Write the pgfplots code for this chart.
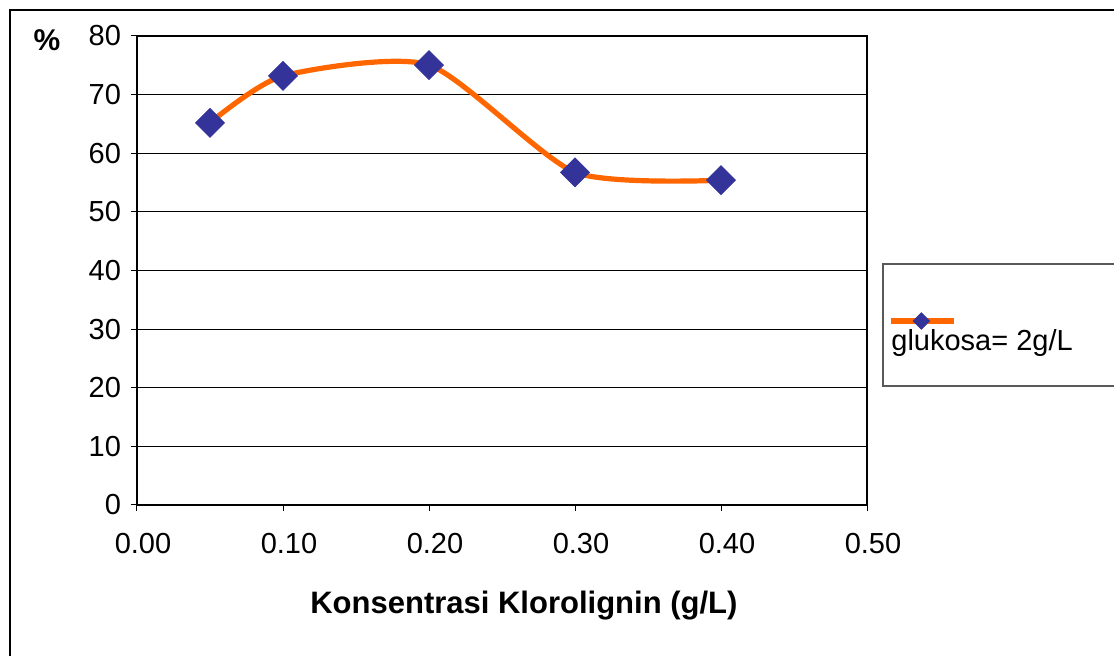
\documentclass[border=0pt]{standalone}
\usepackage{fontspec}
\setmainfont{Liberation Sans}
\usepackage{pgfplots}
\pgfplotsset{compat=1.18}
\definecolor{lineorange}{HTML}{FF6600}
\definecolor{markblue}{HTML}{333399}

\begin{document}
\fontsize{14.5}{17}\selectfont
\begin{tikzpicture}
\useasboundingbox (0,0) rectangle (557pt,-328pt);
% outer chart frame (right and bottom edges fall outside the page)
\draw[line width=1pt] (4.75pt,-5pt) rectangle (565pt,-335pt);
% legend frame
\draw[line width=0.8pt, black!65] (441.5pt,-132pt) rectangle (565pt,-193pt);
\begin{axis}[
    at={(68.5pt,-252.5pt)}, anchor=south west,
    scale only axis, width=365pt, height=234.5pt,
    xmin=0, xmax=0.5, ymin=0, ymax=80,
    xtick={0,0.1,0.2,0.3,0.4,0.5},
    xticklabels={0.00,0.10,0.20,0.30,0.40,0.50},
    ytick={0,10,20,30,40,50,60,70,80},
    /pgf/number format/assume math mode=true,
    xtick pos=bottom, ytick pos=left,
    tick align=outside, major tick length=3pt,
    major tick style={black, line width=0.5pt},
    axis line style={black, line width=0.7pt},
    ymajorgrids=true,
    major grid style={black, line width=0.5pt},
    xticklabel style={xshift=3pt, yshift=-6pt},
    xlabel={\textbf{Konsentrasi Klorolignin (g/L)}},
    xlabel style={at={(0.530,-0.2154)}, anchor=center, font=\fontsize{15.5}{18}\selectfont},
    ylabel={\textbf{\%}},
    ylabel style={at={(-0.1233,0.9915)}, rotate=-90, anchor=center, font=\fontsize{15}{18}\selectfont},
    legend style={at={(1.0329,0.3465)}, anchor=west, draw=none, fill=none,
        inner sep=0pt, nodes={inner sep=0pt}, column sep=0pt},
    legend image code/.code={
        \draw[overlay, #1] (0pt,10.75pt) -- (31.5pt,10.75pt);
        \draw[overlay, #1, mark size=2.9pt] plot coordinates {(15pt,10.75pt)};
    },
]
\addplot[lineorange, line width=2.6pt, smooth, tension=0.4,
    mark=square*, mark size=5.1pt,
    mark options={markblue, fill=markblue, rotate=45, line width=0.4pt, solid}]
    coordinates {(0.05,65.2) (0.1,73.2) (0.2,75.05) (0.3,56.75) (0.4,55.4)};
\addlegendentry{glukosa= 2g/L}
\end{axis}
\end{tikzpicture}
\end{document}
